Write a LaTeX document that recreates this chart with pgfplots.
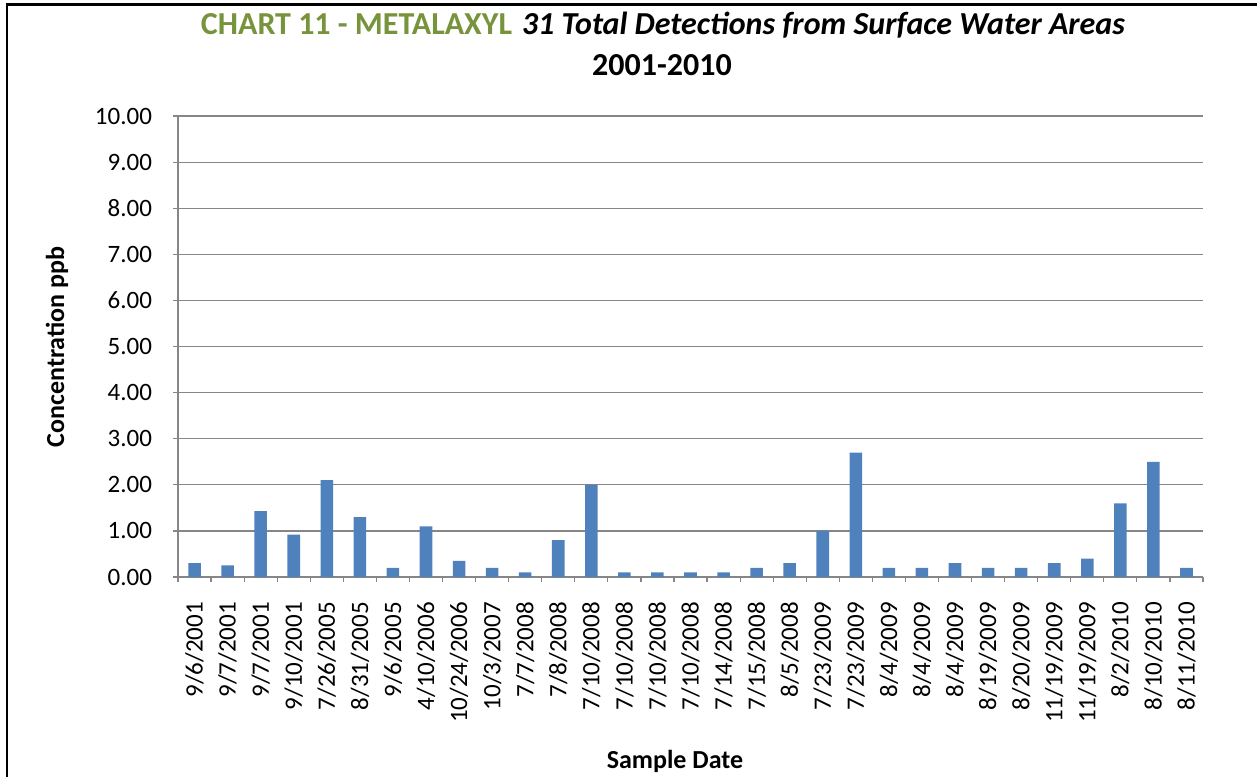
\documentclass[border=0pt]{standalone}
\usepackage{fontspec}
\setmainfont{Carlito}
\usepackage{pgfplots}
\pgfplotsset{compat=1.18}
\definecolor{barblue}{HTML}{4F81BD}
\definecolor{gridgray}{HTML}{868686}
\definecolor{olivegreen}{HTML}{77933C}
\begin{document}
\begin{tikzpicture}
\path[use as bounding box] (0pt,0pt) rectangle (628.5pt,-388.5pt);
\draw[line width=1.2pt] (3.5pt,-388.5pt) -- (3.5pt,-2.25pt) -- (628.5pt,-2.25pt);
\begin{axis}[
  at={(89pt,-288.5pt)}, anchor=south west,
  scale only axis, width=512.5pt, height=230.5pt,
  ymin=0, ymax=10, ytick={0,...,10},
  xmin=-0.5, xmax=30.5, xtick={0,...,30},
  xticklabels={9/6/2001,9/7/2001,9/7/2001,9/10/2001,7/26/2005,8/31/2005,9/6/2005,4/10/2006,10/24/2006,10/3/2007,7/7/2008,7/8/2008,7/10/2008,7/10/2008,7/10/2008,7/10/2008,7/14/2008,7/15/2008,8/5/2008,7/23/2009,7/23/2009,8/4/2009,8/4/2009,8/4/2009,8/19/2009,8/20/2009,11/19/2009,11/19/2009,8/2/2010,8/10/2010,8/11/2010},
  minor xtick={-0.5,0.5,...,30.5},
  major x tick style={draw=none},
  tick align=outside,
  major tick length=2.5pt, minor tick length=2.5pt,
  tick style={gridgray, line width=0.6pt},
  axis line style={gridgray, line width=0.6pt},
  axis x line*=bottom, axis y line*=left,
  ymajorgrids, major grid style={gridgray, line width=0.6pt},
  xticklabel style={rotate=90, anchor=east, font=\fontsize{12.5}{14}\selectfont, xshift=-6.5pt},
  yticklabel style={font=\fontsize{12.5}{14}\selectfont, xshift=-7pt},
  /pgf/number format/assume math mode=true,
  yticklabel={\pgfmathprintnumber[fixed,fixed zerofill,precision=2]{\tick}},
  clip=false,
]
\addplot[ybar, bar width=0.38, fill=barblue, draw=none] coordinates {
(0,0.30) (1,0.25) (2,1.43) (3,0.92) (4,2.10) (5,1.30) (6,0.20) (7,1.10) (8,0.35) (9,0.20)
(10,0.10) (11,0.80) (12,2.00) (13,0.10) (14,0.10) (15,0.10) (16,0.10) (17,0.20) (18,0.30) (19,1.00)
(20,2.70) (21,0.20) (22,0.20) (23,0.30) (24,0.20) (25,0.20) (26,0.30) (27,0.40) (28,1.60) (29,2.50) (30,0.20)};
\end{axis}
\node[anchor=base] at (331.5pt,-17pt) {\fontsize{16}{18}\selectfont\bfseries{\color{olivegreen}CHART 11 - METALAXYL}\hspace{5pt}{\itshape 31 Total Detections from Surface Water Areas}};
\node[anchor=base] at (331pt,-37.5pt) {\fontsize{16}{18}\selectfont\bfseries 2001-2010};
\node[rotate=90] at (28.5pt,-173.5pt) {\fontsize{13}{15}\selectfont\bfseries Concentration ppb};
\node at (337.5pt,-380.5pt) {\fontsize{13}{15}\selectfont\bfseries Sample Date};
\end{tikzpicture}
\end{document}
